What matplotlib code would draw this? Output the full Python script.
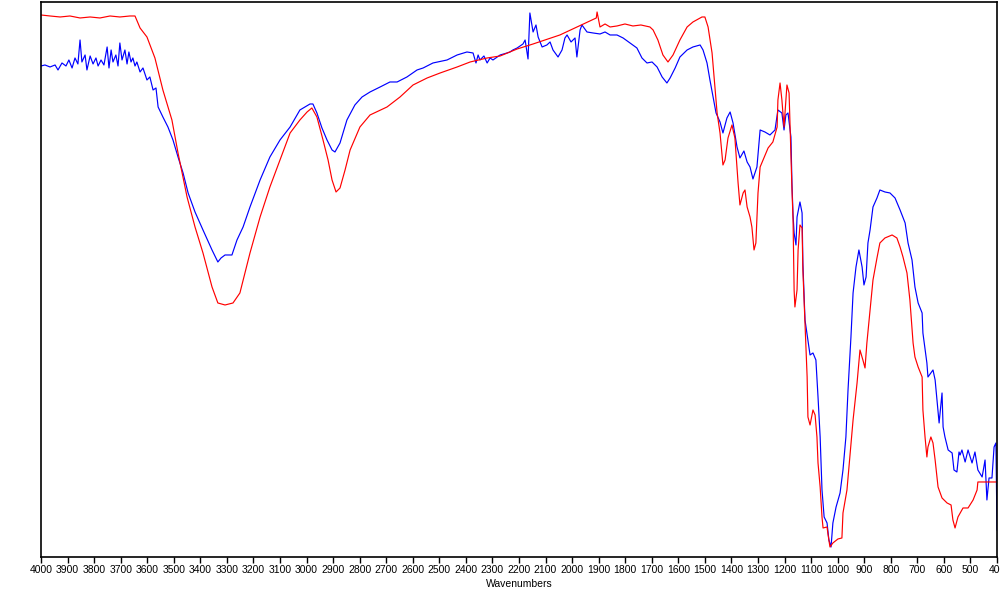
import numpy as np
import matplotlib.pyplot as plt

# FTIR spectra (wavenumber cm-1, transmittance a.u.)
red_wn = [4000, 3966, 3928, 3891, 3853, 3815, 3778, 3740, 3703, 3665, 3646,
          3627, 3601, 3571, 3541, 3507, 3484, 3450, 3420, 3390, 3356, 3334, 3307, 3277,
          3251, 3213, 3175, 3138, 3100, 3062, 3025, 2998, 2980, 2961, 2938, 2919, 2904,
          2889, 2874, 2855, 2836, 2799, 2761, 2697, 2648, 2599, 2546, 2497, 2433, 2384,
          2320, 2271, 2207, 2147, 2046, 1909, 1906, 1895, 1876, 1857, 1831, 1801, 1771,
          1741, 1707, 1695, 1677, 1658, 1639, 1620, 1594, 1567, 1545, 1511, 1500, 1488,
          1473, 1462, 1454, 1443, 1432, 1424, 1413, 1398, 1387, 1375, 1368, 1356, 1349,
          1341, 1330, 1323, 1315, 1308, 1300, 1292, 1281, 1262, 1244, 1228, 1225, 1217,
          1210, 1202, 1195, 1191, 1183, 1180, 1172, 1168, 1164, 1161, 1153, 1149, 1142,
          1134, 1131, 1123, 1115, 1112, 1104, 1093, 1085, 1078, 1074, 1066, 1059, 1055,
          1040, 1036, 1029, 1018, 999, 984, 980, 965, 954, 942, 927, 916, 905, 897, 890,
          878, 867, 852, 841, 822, 795, 777, 765, 754, 739, 728, 716, 709, 697, 682, 679,
          671, 664, 660, 649, 641, 633, 622, 607, 588, 573, 566, 558, 547, 528, 509, 490,
          475, 472, 445, 400]
red_t = [108.4, 108.2, 108.0, 108.2, 107.8, 108.0, 107.8, 108.2, 108.0, 108.2, 108.2,
         105.8, 104.0, 99.8, 93.4, 87.4, 80.8, 72.0, 66.0, 60.8, 54.0, 50.8, 50.4, 50.8,
         52.8, 60.8, 68.0, 74.0, 79.4, 84.8, 87.4, 89.0, 89.8, 88.0, 83.4, 79.4, 75.4,
         73.0, 73.8, 77.4, 81.4, 86.0, 88.4, 90.0, 92.0, 94.4, 95.8, 96.8, 98.0, 99.0,
         99.8, 100.2, 101.6, 102.6, 104.4, 107.8, 109.0, 106.0, 106.6, 106.0, 106.2, 106.6, 106.2,
         106.4, 106.0, 105.4, 103.4, 100.4, 99.0, 100.4, 103.4, 106.0, 107.0, 108.0, 108.0, 106.0,
         100.8, 94.0, 88.8, 84.8, 78.4, 79.4, 83.8, 86.4, 83.8, 74.8, 70.4, 72.8, 73.4,
         70.0, 68.0, 66.0, 61.4, 62.8, 72.8, 78.0, 79.4, 81.8, 83.0, 86.0, 91.4, 94.8,
         91.4, 86.0, 91.4, 94.4, 92.8, 87.4, 73.4, 67.4, 53.4, 50.0, 53.4, 61.4, 66.4,
         65.8, 57.4, 46.8, 36.0, 28.0, 26.4, 29.4, 28.4, 24.0, 18.8, 14.0, 8.0, 5.8,
         6.0, 4.4, 2.0, 2.8, 3.6, 3.8, 8.8, 13.4, 20.0, 27.4, 34.8, 41.4, 39.4, 37.8, 42.8,
         49.4, 55.4, 59.8, 62.8, 63.8, 64.4, 63.8, 62.0, 60.0, 56.8, 51.4, 42.8, 40.0, 38.0, 36.0, 29.4,
         24.0, 20.0, 22.0, 24.0, 22.8, 19.4, 14.0, 11.8, 10.8, 10.4, 7.4, 5.8, 8.0, 9.8, 9.8, 11.4,
         13.4, 15.0, 15.0, 15.0]

blue_wn = [4000, 3985, 3966, 3947, 3936, 3921, 3906, 3895, 3883, 3872, 3861, 3853,
           3846, 3834, 3827, 3815, 3804, 3793, 3785, 3774, 3763, 3751, 3744, 3736, 3729,
           3718, 3710, 3703, 3695, 3684, 3676, 3669, 3661, 3654, 3646, 3639, 3627, 3616,
           3601, 3590, 3578, 3567, 3559, 3541, 3522, 3503, 3484, 3465, 3446, 3420, 3390,
           3356, 3334, 3322, 3307, 3281, 3262, 3239, 3213, 3175, 3138, 3100, 3062, 3025,
           2987, 2976, 2961, 2942, 2923, 2904, 2893, 2874, 2848, 2818, 2791, 2761, 2723,
           2686, 2659, 2622, 2584, 2561, 2524, 2471, 2433, 2396, 2373, 2362, 2354, 2347,
           2332, 2320, 2309, 2298, 2271, 2245, 2234, 2223, 2207, 2196, 2185, 2177, 2166,
           2159, 2147, 2136, 2128, 2113, 2095, 2083, 2072, 2053, 2038, 2027, 2019, 2004,
           1989, 1982, 1970, 1963, 1944, 1921, 1895, 1876, 1857, 1831, 1808, 1782, 1756,
           1737, 1718, 1699, 1680, 1661, 1643, 1631, 1612, 1594, 1567, 1545, 1518, 1507,
           1492, 1481, 1469, 1458, 1443, 1432, 1417, 1405, 1394, 1379, 1368, 1353, 1341,
           1330, 1319, 1304, 1292, 1274, 1255, 1236, 1225, 1210, 1202, 1195, 1187, 1176,
           1172, 1168, 1164, 1157, 1153, 1142, 1134, 1131, 1123, 1112, 1104, 1093, 1082,
           1074, 1066, 1059, 1051, 1040, 1033, 1025, 1018, 1006, 991, 980, 969, 961, 950,
           942, 931, 920, 908, 901, 893, 886, 878, 867, 852, 841, 822, 803, 784, 765, 746,
           735, 720, 709, 697, 682, 679, 664, 660, 641, 633, 626, 618, 607, 603, 596, 584,
           569, 562, 551, 543, 539, 532, 520, 509, 494, 483, 472, 456, 445, 438, 430, 419,
           411, 404, 400]
blue_t = [98.2, 98.4, 98.0, 98.4, 97.4, 98.8, 98.2, 99.4, 97.8, 99.8, 98.6, 103.4,
          99.0, 100.4, 97.4, 100.2, 98.6, 99.8, 98.2, 99.4, 98.4, 102.0, 97.8, 101.4, 99.0,
          100.4, 98.2, 102.8, 99.4, 101.4, 98.6, 101.0, 99.0, 99.8, 98.2, 99.0, 97.0, 97.8,
          95.4, 96.0, 93.4, 93.8, 90.0, 88.0, 86.0, 83.4, 80.0, 76.8, 72.8, 69.0, 65.4,
          61.4, 59.0, 59.8, 60.4, 60.4, 63.4, 66.0, 70.0, 75.4, 80.0, 83.4, 86.0, 89.4,
          90.6, 90.6, 88.8, 85.8, 83.4, 81.4, 81.0, 82.8, 87.4, 90.4, 92.0, 93.0, 94.0,
          95.0, 95.0, 96.0, 97.4, 97.8, 98.8, 99.4, 100.4, 101.0, 100.8, 98.8, 100.4, 99.4,
          100.2, 98.8, 99.8, 99.4, 100.4, 100.8, 101.0, 101.4, 101.8, 102.2, 102.6, 103.4, 99.6,
          108.8, 105.0, 106.4, 104.0, 102.0, 102.4, 103.0, 101.4, 100.0, 101.4, 103.8, 104.4, 103.0,
          103.8, 100.0, 105.4, 106.4, 105.0, 104.8, 104.6, 105.0, 104.4, 104.4, 103.8, 102.8, 101.8,
          99.8, 98.8, 99.0, 98.0, 96.0, 94.8, 95.8, 97.8, 100.0, 101.4, 102.0, 102.4, 101.4,
          98.8, 95.4, 92.0, 88.8, 87.0, 84.8, 87.8, 89.0, 86.8, 82.0, 79.8, 81.2, 79.0,
          78.0, 75.6, 78.0, 85.4, 85.0, 84.4, 85.4, 89.4, 88.8, 85.4, 88.4, 88.8, 84.0,
          74.4, 68.4, 64.8, 62.4, 68.0, 71.0, 68.8, 58.8, 47.4, 43.4, 40.4, 40.8, 39.4,
          32.0, 24.0, 13.4, 8.0, 6.8, 3.4, 2.0, 6.8, 10.0, 12.8, 17.4, 24.0, 33.4, 44.0,
          52.8, 58.0, 61.4, 58.0, 54.4, 56.0, 62.8, 65.4, 70.0, 71.8, 73.4, 73.0, 72.8, 71.8, 69.4, 66.8,
          62.8, 59.4, 54.0, 50.8, 48.8, 44.8, 38.8, 36.0, 37.4, 35.4, 31.4, 26.8, 32.8, 26.0, 24.0, 21.4,
          20.8, 17.4, 17.0, 21.0, 20.4, 21.4, 19.0, 21.4, 18.8, 21.0, 17.4, 16.0, 19.4, 11.4, 15.8, 15.8,
          22.0, 22.8, 5.4]

plt.rcParams['font.family'] = ['Liberation Sans', 'DejaVu Sans']

fig = plt.figure(figsize=(10, 6), dpi=100)
ax = fig.add_axes([0.041, 0.0717, 0.956, 0.925])

ax.plot(blue_wn, blue_t, color='#0000ff', lw=0.85)
ax.plot(red_wn, red_t, color='#ff0000', lw=0.85)

ax.set_xlim(4000, 400)
ax.set_ylim(0, 111)
ax.set_xticks(np.arange(4000, 399, -100))
ax.tick_params(axis='x', labelsize=7.5, length=4, width=1, pad=1.5)
ax.set_yticks([])
for s in ax.spines.values():
    s.set_linewidth(1.2)
ax.set_xlabel('Wavenumbers', fontsize=7.5, labelpad=3)

fig.savefig('out.png', facecolor='w')
